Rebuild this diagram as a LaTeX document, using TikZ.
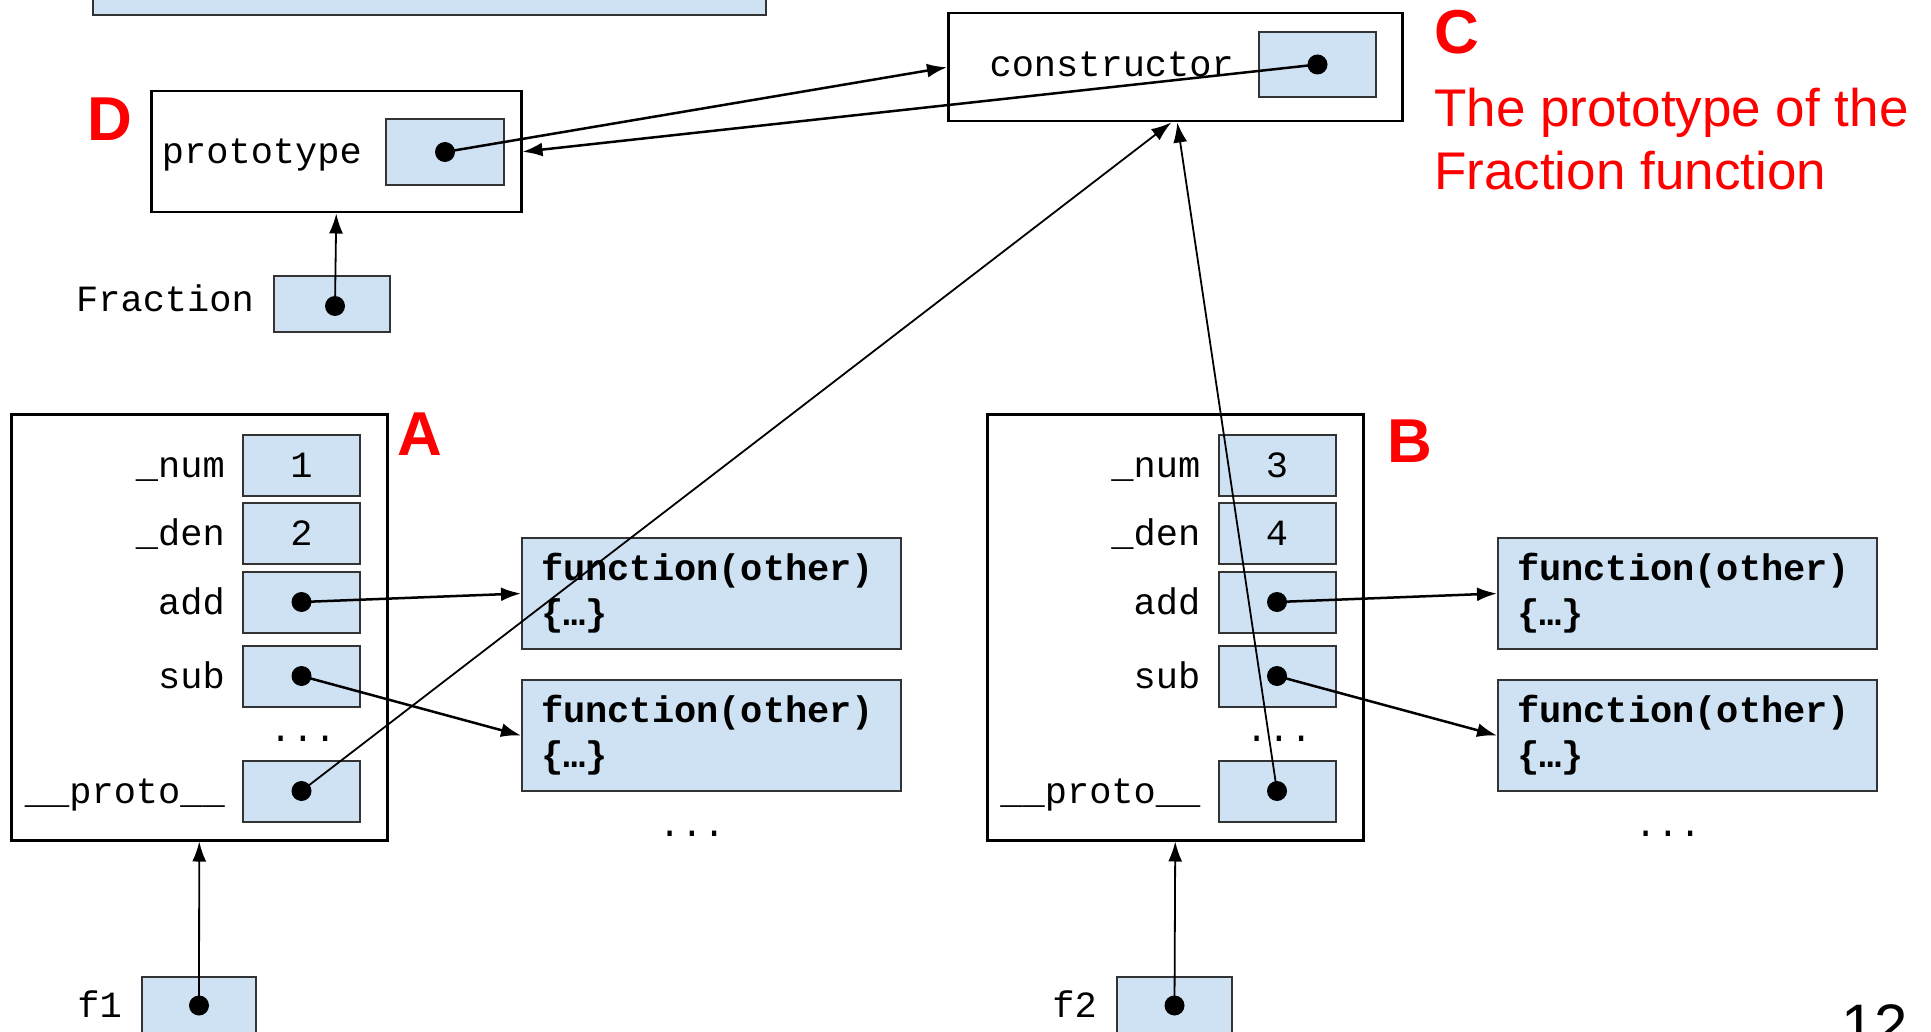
\documentclass[tikz,border=0pt]{standalone}
\usepackage{fontspec}
\setmainfont{Liberation Sans}
\setmonofont{Liberation Mono}
\usepackage{xcolor}
\usepackage{tikz}
\usetikzlibrary{arrows.meta, positioning}

\definecolor{cellblue}{HTML}{CFE2F3}
\newcommand{\codefont}{\ttfamily\fontsize{37}{45}\selectfont}
\newcommand{\codebold}{\ttfamily\bfseries\fontsize{37}{45}\selectfont}
\newcommand{\tagfont}{\rmfamily\bfseries\fontsize{62}{62}\selectfont}

\begin{document}
\begin{tikzpicture}[x=1pt, y=-1pt, node distance=17pt,
    frame/.style={draw=black, line width=2.5pt, anchor=north west, inner sep=0pt},
    obj/.style={frame, minimum width=376pt, minimum height=426pt},
    cell/.style={draw=black!80, fill=cellblue, line width=2pt, minimum width=117pt, minimum height=61pt, inner sep=0pt, font=\codefont, text height=24pt, text depth=0pt},
    field/.style={font=\codefont, inner sep=0pt, text height=24pt, text depth=0pt},
    dot/.style={circle, fill=black, minimum size=20pt, inner sep=0pt},
    func/.style={draw=black!80, fill=cellblue, line width=2pt, anchor=north west, minimum width=379pt, minimum height=111pt, text width=341pt, inner xsep=19pt, inner ysep=5pt, align=left, font=\codebold},
    tag/.style={text=red, font=\tagfont, inner sep=0pt, anchor=north west},
    ptr/.style={draw=black, line width=2.5pt, -{Latex[length=20pt, width=14pt]}},
    thinptr/.style={ptr, line width=1.8pt}
]
    \useasboundingbox (0,0) rectangle (1931,1032);
    \clip (0,0) rectangle (1931,1032);

    % box cut off at the top
    \node [cell, anchor=south west, minimum width=673pt, minimum height=70pt] (topbox) at (92,16) {};

    % C: prototype object
    \node [frame, minimum width=454pt, minimum height=108pt] (cbox) at (947,12) {};
    \node [cell, minimum height=65pt] (ccell) at (1317.5,64.5) {};
    \node [field, left=24pt of ccell] (clbl) {constructor};
    \node [dot] (cdot) at (ccell) {};
    \node [tag] (ctag) at (1434,10) {C};
    \node [anchor=north west, inner sep=0pt, align=left, text=red, font=\rmfamily\fontsize{53}{63}\selectfont] (cnote) at (1434,88) {The prototype of the\\Fraction function};

    % D: Fraction function
    \node [frame, minimum width=370pt, minimum height=121pt] (dbox) at (150,90) {};
    \node [cell, minimum width=118pt, minimum height=66pt] (dcell) at (445,152) {};
    \node [field, left=23pt of dcell] (dlbl) {prototype};
    \node [dot] (ddot) at (dcell) {};
    \node [tag] (dtag) at (87,98) {D};
    \node [cell, minimum width=116pt, minimum height=56pt] (frac) at (332,304) {};
    \node [field, left=19pt of frac, yshift=4pt] (fraclbl) {Fraction};
    \node [dot] (fracdot) at (335,306) {};

    % A: object f1
    \node [obj] (objA) at (10,413) {};
    \node [cell] (numA) at (301.5,465) {1};
    \node [cell] (denA) at (301.5,533) {2};
    \node [cell] (addA) at (301.5,602) {};
    \node [cell] (subA) at (301.5,676) {};
    \node [cell] (protoA) at (301.5,791) {};
    \node [field, left=of numA] (numAlbl) {\_num};
    \node [field, left=of denA] (denAlbl) {\_den};
    \node [field, left=of addA] (addAlbl) {add};
    \node [field, left=of subA] (subAlbl) {sub};
    \node [field, left=of protoA] (protoAlbl) {\_\_proto\_\_};
    \node [field, anchor=base] (moreA) at (303,741) {...};
    \node [dot] (addAdot) at (addA) {};
    \node [dot] (subAdot) at (subA) {};
    \node [dot] (protoAdot) at (protoA) {};
    \node [tag] (atag) at (397,413) {A};
    \node [func] (fnA1) at (521,537) {function(other)\\\{…\}};
    \node [func] (fnA2) at (521,679) {function(other)\\\{…\}};
    \node [field, anchor=base] (fnAmore) at (692,836) {...};

    % B: object f2
    \node [obj] (objB) at (986,413) {};
    \node [cell] (numB) at (1277,465) {3};
    \node [cell] (denB) at (1277,533) {4};
    \node [cell] (addB) at (1277,602) {};
    \node [cell] (subB) at (1277,676) {};
    \node [cell] (protoB) at (1277,791) {};
    \node [field, left=of numB] (numBlbl) {\_num};
    \node [field, left=of denB] (denBlbl) {\_den};
    \node [field, left=of addB] (addBlbl) {add};
    \node [field, left=of subB] (subBlbl) {sub};
    \node [field, left=of protoB] (protoBlbl) {\_\_proto\_\_};
    \node [field, anchor=base] (moreB) at (1279,741) {...};
    \node [dot] (addBdot) at (addB) {};
    \node [dot] (subBdot) at (subB) {};
    \node [dot] (protoBdot) at (protoB) {};
    \node [tag] (btag) at (1387,420) {B};
    \node [func] (fnB1) at (1497,537) {function(other)\\\{…\}};
    \node [func] (fnB2) at (1497,679) {function(other)\\\{…\}};
    \node [field, anchor=base] (fnBmore) at (1668,836) {...};

    % variables f1, f2
    \node [cell, minimum width=114pt, minimum height=57pt] (f1) at (199,1005.5) {};
    \node [field, left=19pt of f1] (f1lbl) {f1};
    \node [dot] (f1dot) at (f1) {};
    \node [cell, minimum width=115pt, minimum height=57pt] (f2) at (1174.5,1005.5) {};
    \node [field, left=19pt of f2] (f2lbl) {f2};
    \node [dot] (f2dot) at (f2) {};

    % page number
    \node [anchor=north west, inner sep=0pt, font=\rmfamily\fontsize{60}{60}\selectfont] (pagenum) at (1841,1004) {12};

    % pointers
    \draw [ptr] (addAdot.center) -- (fnA1.west);
    \draw [ptr] (subAdot.center) -- (fnA2.west);
    \draw [ptr] (addBdot.center) -- (fnB1.west);
    \draw [ptr] (subBdot.center) -- (fnB2.west);
    \draw [ptr] (ddot.center) -- (cbox.west);
    \draw [ptr] (cdot.center) -- (dbox.east);
    \draw [thinptr] (fracdot.center) -- (dbox.south);
    \draw [thinptr] (protoAdot.center) -- ([xshift=-4pt]cbox.south);
    \draw [thinptr] (protoBdot.center) -- ([xshift=2pt]cbox.south);
    \draw [thinptr] (f1dot.center) -- (objA.south);
    \draw [thinptr] (f2dot.center) -- (objB.south);
\end{tikzpicture}
\end{document}
